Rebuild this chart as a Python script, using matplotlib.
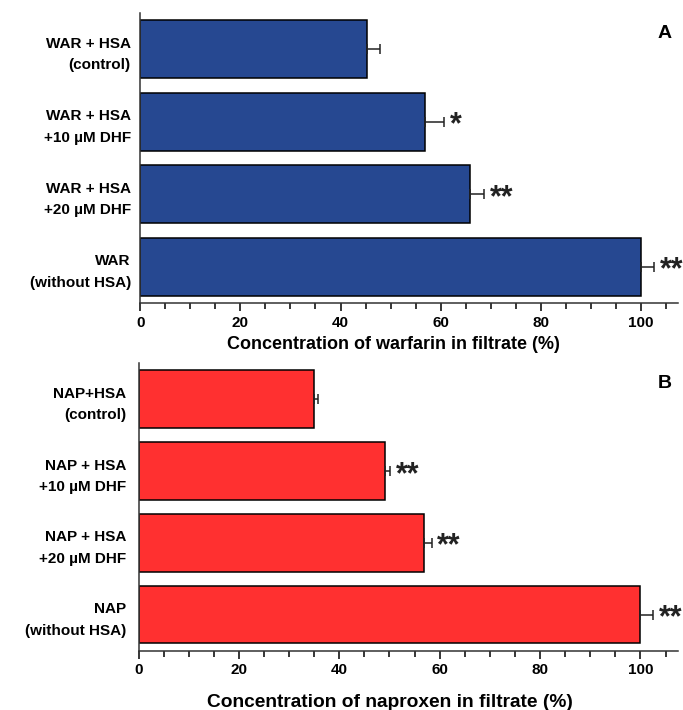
import matplotlib
matplotlib.use("Agg")
import numpy as np
import matplotlib.pyplot as plt
from matplotlib.ticker import MultipleLocator

plt.rcParams['font.family'] = ['Liberation Sans', 'DejaVu Sans']
plt.rcParams['font.weight'] = 'bold'
plt.rcParams['axes.labelweight'] = 'bold'

# Panel A: warfarin
war_labels = ["WAR + HSA\n(control)", "WAR + HSA\n+10 µM DHF",
              "WAR + HSA\n+20 µM DHF", "WAR\n(without HSA)"]
war_means = [45.2, 56.8, 65.9, 100.0]
war_err = [2.7, 3.9, 2.8, 2.7]
war_sig = ["", "*", "**", "**"]

# Panel B: naproxen
nap_labels = ["NAP+HSA\n(control)", "NAP + HSA\n+10 µM DHF",
              "NAP + HSA\n+20 µM DHF", "NAP\n(without HSA)"]
nap_means = [35.0, 49.1, 56.9, 100.0]
nap_err = [0.8, 1.0, 1.5, 2.5]
nap_sig = ["", "**", "**", "**"]

xticks = [0, 20, 40, 60, 80, 100]


def panel(ax, labels, means, err, sig, color, xlabel, label_size, letter, label_pos, tick_pad):
    y = np.arange(len(means))
    ax.barh(y, means, height=0.8, color=color, edgecolor="black", linewidth=1.1, zorder=2)
    ax.errorbar(means, y, xerr=[np.zeros(len(err)), err], fmt="none",
                ecolor="#222222", elinewidth=1.1, capsize=3.5, capthick=1.1, zorder=3)
    for m, e, s, yi in zip(means, err, sig, y):
        if s:
            ax.annotate(s, xy=(m + e, yi), xytext=(4, -8.5), textcoords="offset points",
                        ha="left", va="baseline", fontsize=22, color="#222222")
    ax.set_ylim(3.5, -0.5)
    ax.set_xlim(0, 107.5)
    ax.set_yticks(y)
    ax.set_yticklabels(labels, fontsize=11, multialignment="right", linespacing=1.7)
    ax.tick_params(axis="y", length=0, pad=tick_pad)
    ax.set_xticks(xticks)
    ax.xaxis.set_minor_locator(MultipleLocator(5))
    ax.tick_params(axis="x", which="major", length=6, width=1.1, labelsize=11, pad=3)
    ax.tick_params(axis="x", which="minor", length=4, width=1.1)
    for side in ["top", "right"]:
        ax.spines[side].set_visible(False)
    for side in ["left", "bottom"]:
        ax.spines[side].set_linewidth(1.1)
        ax.spines[side].set_color("#333333")
    ax.set_xlabel(xlabel, fontsize=label_size)
    ax.xaxis.set_label_coords(*label_pos)
    ax.text(0.975, 0.93, letter, transform=ax.transAxes, fontsize=14,
            ha="center", va="center")


fig = plt.figure(figsize=(6.83, 7.10), dpi=100)
ax1 = fig.add_axes([0.2057, 0.5732, 0.787, 0.4085])
ax2 = fig.add_axes([0.2028, 0.0838, 0.790, 0.4045])

panel(ax1, war_labels, war_means, war_err, war_sig, "#264891",
      "Concentration of warfarin in filtrate (%)", 13, "A", (0.47, -0.112), 7)
panel(ax2, nap_labels, nap_means, nap_err, nap_sig, "#FF3030",
      "Concentration of naproxen in filtrate (%)", 13.8, "B", (0.466, -0.15), 9)

fig.savefig("out.png", dpi=100)
